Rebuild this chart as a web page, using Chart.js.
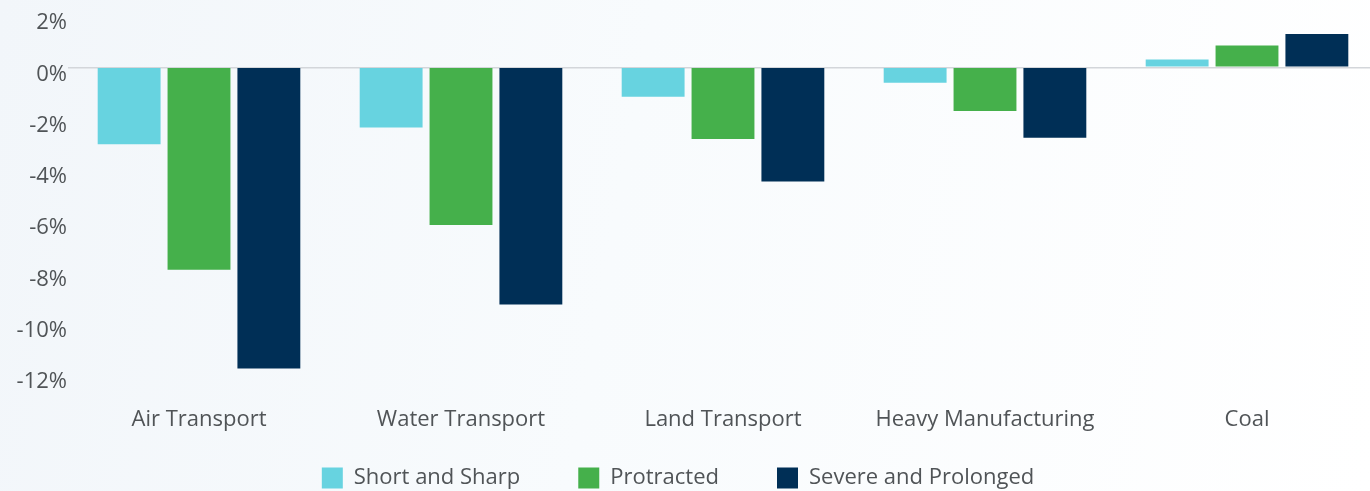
<!DOCTYPE html>
<html>
<head>
<meta charset="utf-8">
<script src="https://cdn.jsdelivr.net/npm/chart.js@4/dist/chart.umd.min.js"></script>
<style>
  html, body { margin: 0; padding: 0; overflow: hidden; }
  body { width: 1370px; height: 491px; background: linear-gradient(100deg, #f2f6fa 0%, #f8fbfd 45%, #ffffff 100%); }
  #wrap { position: absolute; left: 0; top: 0; width: 1380px; height: 499px; }
</style>
</head>
<body>
<div id="wrap"><canvas id="c" width="1380" height="499"></canvas></div>
<script>
const categories = ["Air Transport", "Water Transport", "Land Transport", "Heavy Manufacturing", "Coal"];
const shortAndSharp = [-3.0, -2.35, -1.15, -0.6, 0.3];
const protracted = [-7.9, -6.15, -2.8, -1.7, 0.85];
const severeAndProlonged = [-11.75, -9.25, -4.45, -2.75, 1.3];
const seriesNames = ["Short and Sharp", "Protracted", "Severe and Prolonged"];
const yTicks = [2, 0, -2, -4, -6, -8, -10, -12];

const FONT = "'Open Sans', 'Noto Sans', sans-serif";
const TEXT = "#505457";

new Chart(document.getElementById('c'), {
  type: 'bar',
  data: {
    labels: categories,
    datasets: [
      { label: seriesNames[0], data: shortAndSharp, backgroundColor: '#67d3e0' },
      { label: seriesNames[1], data: protracted, backgroundColor: '#45b04b' },
      { label: seriesNames[2], data: severeAndProlonged, backgroundColor: '#002f56' }
    ]
  },
  options: {
    responsive: false,
    animation: false,
    layout: { padding: { top: 16, right: 2, left: 0, bottom: 0 } },
    datasets: { bar: { barPercentage: 0.9, categoryPercentage: 0.8 } },
    plugins: {
      tooltip: { enabled: false },
      legend: {
        position: 'bottom',
        labels: {
          font: { family: FONT, size: 22 },
          color: TEXT,
          boxWidth: 21,
          boxHeight: 21,
          padding: 14,
          generateLabels(chart) {
            const items = Chart.defaults.plugins.legend.labels.generateLabels(chart);
            items.forEach((it, i) => {
              it.text = it.text + (i < items.length - 1 ? '\u2003\u2003' : '\u2003');
              it.lineWidth = 0;
            });
            return items;
          }
        }
      }
    },
    scales: {
      x: {
        grid: { display: false, drawTicks: false },
        border: { display: false },
        ticks: { font: { family: FONT, size: 22 }, color: TEXT, padding: 32, maxRotation: 0 },
        afterFit(scale) { scale.height = 78; }
      },
      y: {
        min: -12, max: 2,
        afterBuildTicks(scale) { scale.ticks = yTicks.map(v => ({ value: v })); },
        grid: {
          drawTicks: false,
          color: ctx => (ctx.tick && ctx.tick.value === 0) ? '#d3d6da' : 'rgba(0,0,0,0)',
          lineWidth: 1.5
        },
        border: { display: false },
        ticks: {
          font: { family: FONT, size: 22 },
          color: TEXT,
          padding: 1,
          labelOffset: 7,
          callback: v => v + '%'
        },
        afterFit(scale) { scale.width = 68; }
      }
    }
  }
});
</script>
</body>
</html>
